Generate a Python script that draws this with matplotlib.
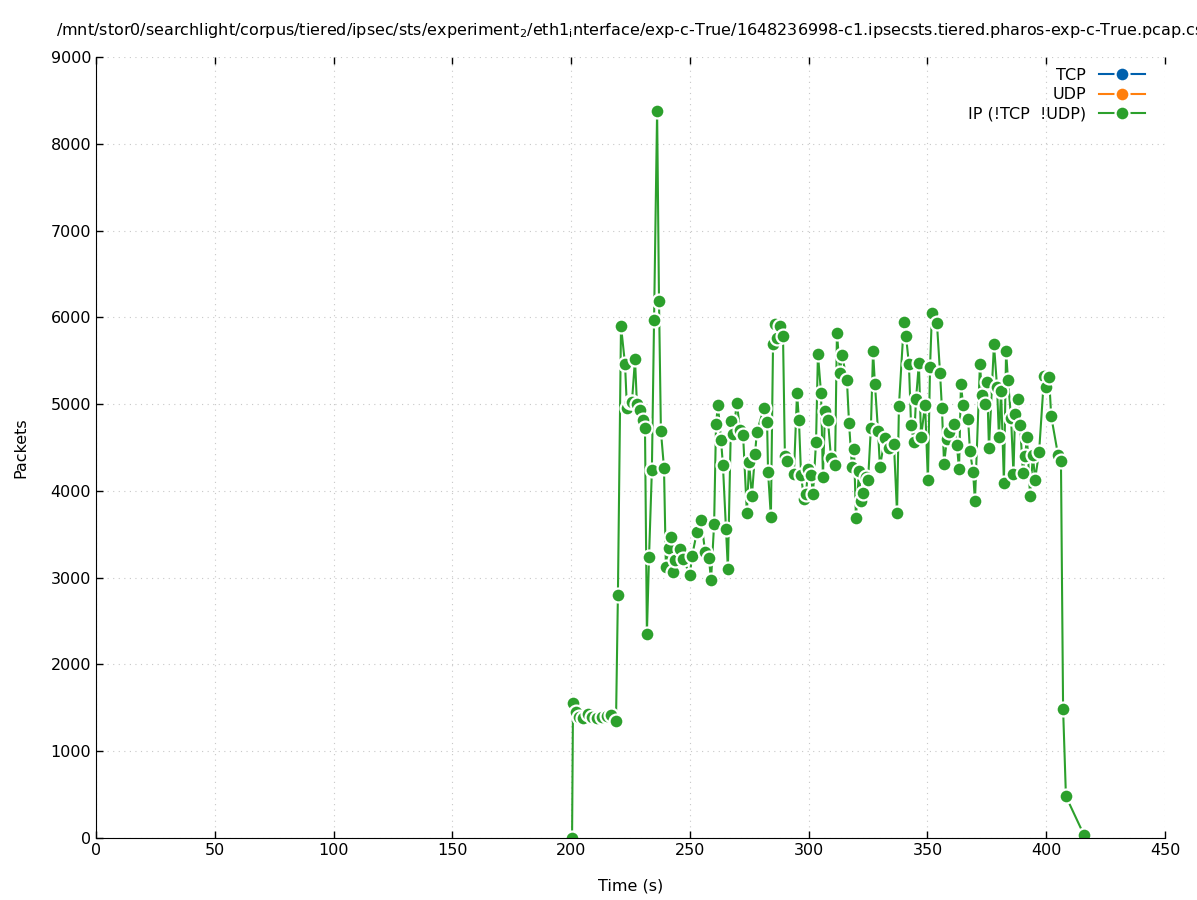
import numpy as np
import matplotlib.pyplot as plt

# IP (!TCP !UDP) packets per sample
t = [200.4, 200.8, 202.0, 203.5, 205.0, 207.0, 209.0, 211.0, 213.0, 215.0, 217.0,
     218.9, 219.7, 221.0, 222.7, 223.5, 224.8, 225.6, 226.9, 227.7, 229.0, 230.3,
     231.1, 231.9, 232.8, 234.0, 234.9, 236.2, 237.0, 237.8, 239.1, 239.9, 241.2,
     242.0, 242.9, 243.7, 245.8, 247.1, 250.0, 250.9, 253.0, 254.7, 256.4, 258.0,
     258.9, 260.2, 261.0, 261.8, 263.1, 263.9, 265.2, 266.0, 267.3, 268.1, 269.8,
     271.1, 272.4, 274.0, 274.9, 276.1, 277.4, 278.2, 281.2, 282.5, 282.9, 284.1,
     285.0, 285.8, 286.7, 287.9, 289.2, 290.0, 290.9, 293.8, 295.1, 295.9, 296.8,
     298.0, 298.9, 299.7, 301.0, 301.8, 303.1, 303.9, 305.2, 306.0, 306.9, 308.1,
     309.4, 311.1, 311.9, 313.2, 314.0, 316.1, 317.0, 318.2, 319.1, 319.9, 321.2,
     322.0, 322.9, 324.1, 325.0, 326.2, 327.1, 327.9, 329.2, 330.0, 332.1, 333.8,
     335.9, 337.2, 338.0, 340.1, 341.0, 342.2, 343.1, 344.3, 345.2, 346.4, 347.3,
     349.0, 350.2, 351.1, 351.9, 354.0, 355.3, 356.1, 357.0, 358.2, 359.1, 361.2,
     362.4, 363.3, 364.1, 365.0, 367.1, 367.9, 369.2, 370.0, 372.1, 373.0, 374.2,
     375.1, 375.9, 378.0, 379.3, 380.1, 381.0, 382.2, 383.1, 383.9, 385.2, 386.2,
     386.9, 388.1, 389.0, 390.2, 391.1, 391.9, 393.2, 394.4, 395.3, 397.0, 399.1,
     399.9, 401.2, 402.1, 405.0, 406.2, 407.1, 408.3, 415.9]
ip = [0, 1550, 1450, 1390, 1380, 1430, 1390, 1380, 1400, 1410, 1420,
      1350, 2800, 5900, 5460, 4950, 5020, 5020, 5520, 5000, 4930, 4820,
      4720, 2350, 3240, 4240, 5970, 8380, 6190, 4690, 4265, 3120, 3340,
      3470, 3060, 3200, 3330, 3220, 3030, 3250, 3530, 3670, 3300, 3230,
      2970, 3620, 4770, 4990, 4590, 4300, 3560, 3100, 4810, 4660, 5010,
      4700, 4640, 3740, 4330, 3940, 4420, 4680, 4960, 4790, 4220, 3700,
      5690, 5920, 5760, 5900, 5790, 4400, 4350, 4200, 5130, 4820, 4180,
      3910, 3960, 4250, 4180, 3960, 4560, 5580, 5130, 4160, 4920, 4820,
      4380, 4300, 5820, 5360, 5570, 5280, 4780, 4280, 4480, 3690, 4230,
      3880, 3980, 4160, 4120, 4730, 5610, 5230, 4690, 4280, 4610, 4490,
      4540, 3740, 4980, 5950, 5780, 5460, 4760, 4560, 5060, 5470, 4620,
      4990, 4120, 5430, 6050, 5930, 5360, 4950, 4310, 4600, 4680, 4770,
      4530, 4250, 5230, 4990, 4830, 4460, 4220, 3880, 5460, 5100, 5000,
      5260, 4490, 5690, 5200, 4620, 5150, 4090, 5610, 5280, 4840, 4200,
      4890, 5060, 4760, 4210, 4400, 4620, 3940, 4410, 4130, 4450, 5320,
      5200, 5310, 4860, 4410, 4350, 1490, 480, 35]

tcp_t, tcp = [], []
udp_t, udp = [], []

plt.rcParams['font.family'] = 'DejaVu Sans'
plt.rcParams['font.size'] = 11.5

fig = plt.figure(figsize=(11.97, 9), dpi=100)
ax = fig.add_axes([96 / 1197, 1 - 838 / 900, (1165 - 96) / 1197, (838 - 57) / 900])

mk = dict(marker='o', markersize=10, markeredgecolor='white', markeredgewidth=1.6, linewidth=1.5)
ax.plot(tcp_t, tcp, color='#0060ad', label='TCP', **mk)
ax.plot(udp_t, udp, color='#ff7f0e', label='UDP', **mk)
ax.plot(t, ip, color='#2ca02c', label='IP (!TCP  !UDP)', **mk)

ax.set_xlim(0, 450)
ax.set_ylim(0, 9000)
ax.set_xticks(np.arange(0, 451, 50))
ax.set_yticks(np.arange(0, 9001, 1000))
ax.tick_params(direction='in', top=True, right=False, length=5, width=1, labelsize=11.5)
# gnuplot-style border: only bottom and left lines
ax.spines['top'].set_visible(False)
ax.spines['right'].set_visible(False)
ax.grid(True, color='#c8c8c8', linestyle=(0, (1, 4)), linewidth=0.8)
ax.set_axisbelow(True)

ax.set_xlabel('Time (s)', labelpad=15)
ax.set_ylabel('Packets', labelpad=16)

fig.text(635 / 1197, 1 - 30 / 900,
         r'/mnt/stor0/searchlight/corpus/tiered/ipsec/sts/experiment$_2$/eth1$_\mathrm{i}$nterface/exp-c-True/1648236998-c1.ipsecsts.tiered.pharos-exp-c-True.pcap.csv',
         ha='center', va='center', fontsize=11.5)

ax.legend(loc='upper right', bbox_to_anchor=(1 - 7 / 1069, 1 + 2 / 781), frameon=False,
          markerfirst=False, handlelength=2.9, borderaxespad=0.4,
          labelspacing=0.28, fontsize=11.5)

fig.savefig('out.png', dpi=100)
